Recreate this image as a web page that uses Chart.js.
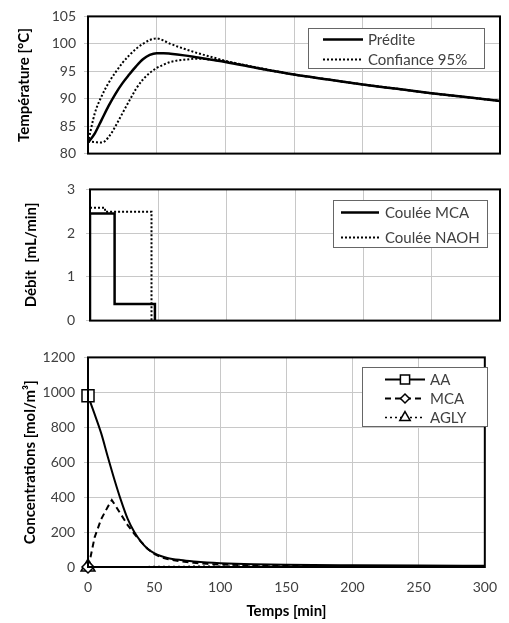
<!DOCTYPE html>
<html>
<head>
<meta charset="utf-8">
<title>Température, débit et concentrations</title>
<script src="https://cdn.jsdelivr.net/npm/chart.js@4.4.0/dist/chart.umd.min.js"></script>
<style>
  body { margin: 0; background: #fff; }
  #wrap { position: relative; width: 509px; height: 623px; }
  canvas { position: absolute; left: 0; }
</style>
</head>
<body>
<div id="wrap">
  <canvas id="tempChart" width="509" height="170" style="top:0"></canvas>
  <canvas id="flowChart" width="509" height="170" style="top:170px"></canvas>
  <canvas id="concChart" width="509" height="283" style="top:340px"></canvas>
</div>
<script>
// Température prédite et bande de confiance
var tempTimes   = [0, 5, 10, 15, 20, 25, 30, 35, 40, 45, 50, 55, 60, 70, 80, 90, 100, 125, 150, 175, 200, 225, 250, 275, 300];
var tempPredite = [82.0, 83.7, 86.2, 88.7, 90.9, 92.8, 94.4, 95.9, 97.2, 98.0, 98.3, 98.3, 98.2, 97.9, 97.5, 97.1, 96.7, 95.5, 94.4, 93.5, 92.6, 91.8, 91.0, 90.3, 89.6];
var tempUpper   = [82.0, 87.4, 90.5, 92.9, 94.8, 96.5, 97.9, 99.1, 100.0, 100.7, 101.0, 100.6, 100.0, 99.1, 98.3, 97.6, 96.9, 95.6, 94.4, 93.5, 92.6, 91.8, 91.0, 90.3, 89.6];
var tempLower   = [82.2, 82.1, 82.0, 83.0, 85.0, 87.3, 89.6, 91.8, 93.5, 94.7, 95.6, 96.2, 96.7, 97.1, 97.3, 97.1, 96.8, 95.5, 94.4, 93.5, 92.6, 91.8, 91.0, 90.3, 89.6];

// Débits (paliers)
var mcaFlowTimes  = [0, 0, 18, 18, 47.5, 47.5];
var mcaFlow       = [0, 2.45, 2.45, 0.38, 0.38, 0];
var naohFlowTimes = [0, 11, 11, 45, 45];
var naohFlow      = [2.58, 2.58, 2.49, 2.49, 0];

// Concentrations
var concTimes = [0, 5, 10, 15, 20, 25, 30, 35, 40, 45, 50, 55, 60, 70, 80, 90, 100, 125, 150, 200, 250, 300];
var concAA    = [980, 875, 765, 630, 500, 380, 275, 200, 145, 105, 80, 63, 52, 40, 32, 26, 22, 16, 13, 10, 8, 7];
var concAGLY  = [0, 0, 0, 0, 1, 1, 1, 2, 2, 2, 3, 3, 3, 3, 4, 4, 4, 4, 4, 5, 5, 5];
var mcaTimes  = [0, 2, 5, 10, 15, 18, 20, 25, 30, 35, 40, 45, 50, 55, 60, 70, 80, 90, 100, 125, 150, 200, 250, 300];
var concMCA   = [0, 60, 170, 275, 345, 383, 360, 300, 240, 190, 145, 105, 75, 57, 45, 32, 24, 18, 14, 9, 7, 5, 4, 3];

var xTicks = [0, 50, 100, 150, 200, 250, 300];

var FONT = 'Lato, "Open Sans", sans-serif';
var GRID = 'rgb(200,200,200)';
var TEXT = '#404040';

function toPoints(xs, ys) {
    return xs.map(function(x, i) { return {x: x, y: ys[i]}; });
}

// Black frame around the plot area
var frame = {
    id: 'frame',
    afterDatasetsDraw: function(chart) {
        var a = chart.chartArea, ctx = chart.ctx;
        ctx.save();
        ctx.strokeStyle = '#000';
        ctx.lineWidth = 2;
        ctx.strokeRect(a.left, a.top, a.right - a.left, a.bottom - a.top);
        ctx.restore();
    }
};

// Legend box drawn inside the plot area
var boxLegend = {
    id: 'boxLegend',
    afterDatasetsDraw: function(chart, args, opts) {
        var a = chart.chartArea, ctx = chart.ctx;
        var x = Math.round(a.left + opts.x), y = Math.round(a.top + opts.y);
        ctx.save();
        ctx.fillStyle = '#fff';
        ctx.fillRect(x, y, opts.width, opts.height);
        ctx.strokeStyle = '#666';
        ctx.lineWidth = 1;
        ctx.strokeRect(x + 0.5, y + 0.5, opts.width, opts.height);
        ctx.font = '15px ' + FONT;
        ctx.textBaseline = 'middle';
        opts.items.forEach(function(item, i) {
            var ds = chart.data.datasets[item.dataset];
            var ly = Math.round(y + opts.rowStart + i * opts.rowGap) + 0.5;
            ctx.strokeStyle = '#000';
            ctx.lineWidth = ds.borderWidth;
            ctx.setLineDash(ds.borderDash || []);
            ctx.beginPath();
            ctx.moveTo(x + opts.lineStart, ly);
            ctx.lineTo(x + opts.lineEnd, ly);
            ctx.stroke();
            ctx.setLineDash([]);
            if (item.marker) {
                ctx.fillStyle = '#fff';
                ctx.lineWidth = 1.5;
                Chart.helpers.drawPoint(ctx, {pointStyle: item.marker, radius: item.radius, borderWidth: 1.5, rotation: 0},
                    x + (opts.lineStart + opts.lineEnd) / 2, ly);
            }
            ctx.fillStyle = TEXT;
            ctx.fillText(item.text, x + opts.textStart, ly + 1);
        });
        ctx.restore();
    }
};

function plainNumber(v) { return String(v); }

function xScale(height, showLabels) {
    return {
        type: 'linear', min: 0, max: 300,
        afterBuildTicks: function(s) { s.ticks = xTicks.map(function(v) { return {value: v}; }); },
        ticks: {display: showLabels, font: {family: FONT, size: 14}, color: TEXT, padding: 12, callback: plainNumber},
        grid: {color: GRID, drawTicks: false},
        border: {display: false},
        title: {display: showLabels, text: 'Temps [min]', font: {family: FONT, size: 15, weight: 'bold'}, color: '#000', padding: {bottom: 3}},
        afterFit: function(s) { s.height = height; }
    };
}

function yScale(min, max, step, title, width, labelPad, titlePad) {
    return {
        min: min, max: max,
        ticks: {stepSize: step, font: {family: FONT, size: 14}, color: TEXT, padding: labelPad, callback: plainNumber},
        grid: {color: GRID, tickLength: 4},
        border: {display: false},
        title: {display: true, text: title, font: {family: FONT, size: 15, weight: 'bold'}, color: '#000', padding: {top: titlePad}},
        afterFit: function(s) { s.width = width; }
    };
}

new Chart(document.getElementById('tempChart'), {
    type: 'scatter',
    data: {
        datasets: [
            {label: 'Confiance 95%', data: toPoints(tempTimes, tempUpper), showLine: true, borderColor: '#000',
             borderWidth: 2, borderDash: [2, 2], pointRadius: 0, cubicInterpolationMode: 'monotone'},
            {label: 'Confiance 95% inf', data: toPoints(tempTimes, tempLower), showLine: true, borderColor: '#000',
             borderWidth: 2, borderDash: [2, 2], pointRadius: 0, cubicInterpolationMode: 'monotone'},
            {label: 'Prédite', data: toPoints(tempTimes, tempPredite), showLine: true, borderColor: '#000',
             borderWidth: 2.5, pointRadius: 0, cubicInterpolationMode: 'monotone'}
        ]
    },
    options: {
        responsive: false, animation: false,
        layout: {padding: {top: 15, right: 9, left: 0, bottom: 0}},
        plugins: {
            legend: {display: false}, tooltip: {enabled: false},
            boxLegend: {x: 220, y: 12, width: 176, height: 40, rowStart: 11, rowGap: 19.5,
                        lineStart: 15, lineEnd: 55, textStart: 60,
                        items: [{dataset: 2, text: 'Prédite'}, {dataset: 0, text: 'Confiance 95%'}]}
        },
        scales: {
            x: xScale(15, false),
            y: yScale(80, 105, 5, 'Température [°C]', 88, 8, 15)
        }
    },
    plugins: [frame, boxLegend]
});

new Chart(document.getElementById('flowChart'), {
    type: 'scatter',
    data: {
        datasets: [
            {label: 'Coulée NAOH', data: toPoints(naohFlowTimes, naohFlow), showLine: true, borderColor: '#000',
             borderWidth: 2, borderDash: [2, 2], pointRadius: 0},
            {label: 'Coulée MCA', data: toPoints(mcaFlowTimes, mcaFlow), showLine: true, borderColor: '#000',
             borderWidth: 2.5, pointRadius: 0}
        ]
    },
    options: {
        responsive: false, animation: false,
        layout: {padding: {top: 16, right: 9, left: 0, bottom: 0}},
        plugins: {
            legend: {display: false}, tooltip: {enabled: false},
            boxLegend: {x: 243, y: 11, width: 154, height: 47, rowStart: 12, rowGap: 25,
                        lineStart: 8, lineEnd: 46, textStart: 52,
                        items: [{dataset: 1, text: 'Coulée MCA'}, {dataset: 0, text: 'Coulée NAOH'}]}
        },
        scales: {
            x: xScale(13, false),
            y: yScale(0, 3, 1, 'Débit  [mL/min]', 90, 11, 22)
        }
    },
    plugins: [frame, boxLegend]
});

function firstOnly(r) {
    return function(ctx) { return ctx.dataIndex === 0 ? r : 0; };
}

new Chart(document.getElementById('concChart'), {
    type: 'scatter',
    data: {
        datasets: [
            {label: 'AA', data: toPoints(concTimes, concAA), showLine: true, borderColor: '#000', borderWidth: 2,
             pointStyle: 'rect', pointRadius: firstOnly(8.5), pointBackgroundColor: '#fff', pointBorderColor: '#000',
             pointBorderWidth: 1.5, cubicInterpolationMode: 'monotone', clip: false},
            {label: 'MCA', data: toPoints(mcaTimes, concMCA), showLine: true, borderColor: '#000', borderWidth: 2,
             borderDash: [6, 4], pointStyle: 'rectRot', pointRadius: firstOnly(6), pointBackgroundColor: '#fff',
             pointBorderColor: '#000', pointBorderWidth: 1.5, tension: 0, clip: false},
            {label: 'AGLY', data: toPoints(concTimes, concAGLY), showLine: true, borderColor: '#000', borderWidth: 1.5,
             borderDash: [2, 3], pointStyle: 'triangle', pointRadius: firstOnly(8), pointBackgroundColor: '#fff',
             pointBorderColor: '#000', pointBorderWidth: 1.5, clip: false}
        ]
    },
    options: {
        responsive: false, animation: false,
        layout: {padding: {top: 10, right: 12, left: 0, bottom: 0}},
        plugins: {
            legend: {display: false}, tooltip: {enabled: false},
            boxLegend: {x: 274, y: 10, width: 125, height: 59, rowStart: 11.5, rowGap: 19.3,
                        lineStart: 23, lineEnd: 63, textStart: 68,
                        items: [{dataset: 0, text: 'AA', marker: 'rect', radius: 6.5},
                                {dataset: 1, text: 'MCA', marker: 'rectRot', radius: 4.5},
                                {dataset: 2, text: 'AGLY', marker: 'triangle', radius: 6}]}
        },
        scales: {
            x: xScale(56, true),
            y: yScale(0, 1200, 200, 'Concentrations [mol/m³]', 88, 9, 21)
        }
    },
    plugins: [frame, boxLegend]
});
</script>
</body>
</html>
